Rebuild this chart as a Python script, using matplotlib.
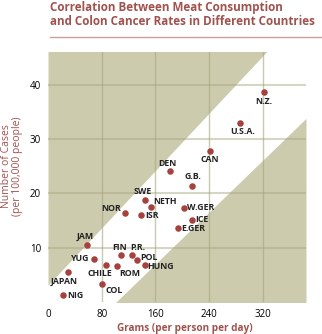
import numpy as np
import matplotlib.pyplot as plt

countries = ["N.Z.", "U.S.A.", "CAN", "DEN", "G.B.", "SWE", "NETH", "NOR", "ISR",
             "W.GER", "ICE", "E.GER", "JAM", "YUG", "JAPAN", "NIG", "CHILE", "COL",
             "ROM", "FIN", "P.R.", "POL", "HUNG"]
grams = [321, 286, 241, 181, 215, 144, 154, 115, 139,
         203, 214, 194, 58, 68, 30, 22, 86, 81,
         102, 109, 125, 133, 144]
cases = [38.6, 33.0, 27.8, 24.1, 21.4, 18.8, 17.5, 16.4, 16.1,
         17.3, 15.1, 13.6, 10.4, 8.0, 5.6, 1.2, 6.9, 3.3,
         6.6, 8.6, 8.6, 7.7, 6.8]
# label offsets in pixels and alignment
label_pos = {
    "N.Z.": (0, -9, "center", "center"), "U.S.A.": (3, -9, "center", "center"),
    "CAN": (0, -9, "center", "center"), "DEN": (-2, 8, "center", "center"),
    "G.B.": (0, 9, "center", "center"), "SWE": (-2, 8, "center", "center"),
    "NETH": (2, 5, "left", "center"), "NOR": (-4, 4, "right", "center"),
    "ISR": (4, -1, "left", "center"), "W.GER": (3, 0, "left", "center"),
    "ICE": (3, 0, "left", "center"), "E.GER": (3, 0, "left", "center"),
    "JAM": (-2, 9, "center", "center"), "YUG": (-4, 0, "right", "center"),
    "JAPAN": (-4, -10, "center", "center"), "NIG": (4, 0, "left", "center"),
    "CHILE": (-6, -9, "center", "center"), "COL": (3, -6, "left", "center"),
    "ROM": (3, -7, "left", "center"), "FIN": (-2, 8, "center", "center"),
    "P.R.": (6, 8, "center", "center"), "POL": (3, 3, "left", "center"),
    "HUNG": (3, -1, "left", "center"),
}

xticks = [0, 80, 160, 240, 320]
yticks = [10, 20, 30, 40]
upper_band = (3.1, 0.132)
lower_band = (-12.1, 0.1195)

red = "#a5423f"
shade = "#cdcbae"
plt.rcParams['font.family'] = ['Open Sans', 'DejaVu Sans']

fig = plt.figure(figsize=(3.22, 3.34), dpi=100)
ax = fig.add_axes([48 / 322, 1 - 302 / 334, 258 / 322, 250 / 334])
xlim = (0, 384)
ylim = (0, 46)
xs = np.array(xlim)
ax.fill_between(xs, upper_band[0] + upper_band[1] * xs, 60, color=shade, lw=0, zorder=0)
ax.fill_between(xs, -10, lower_band[0] + lower_band[1] * xs, color=shade, lw=0, zorder=0)
for x in xticks[1:]:
    ax.axvline(x, color="#a6a47c", alpha=0.6, lw=1, zorder=1)
for y in yticks:
    ax.axhline(y, color="#a6a47c", alpha=0.45, lw=1.5, zorder=1)

ax.scatter(grams, cases, s=22, color=red, lw=0, zorder=3)
for c, gx, cy in zip(countries, grams, cases):
    dx, dy, ha, va = label_pos[c]
    ax.annotate(c, (gx, cy), xytext=(dx, dy), textcoords="offset pixels",
                ha=ha, va=va, fontsize=6.3, fontweight="bold", color="#222222", zorder=4)

ax.set_xlim(xlim)
ax.set_ylim(ylim)
ax.set_xticks(xticks)
ax.set_yticks(yticks)
ax.tick_params(length=0, labelsize=7, pad=5)
for s in ax.spines.values():
    s.set_visible(False)

fig.text(50 / 322, 1 - 1 / 334, "Correlation Between Meat Consumption\nand Colon Cancer Rates in Different Countries",
         ha="left", va="top", fontsize=8.4, fontweight="bold", color="#a0524d", linespacing=1.1)
fig.add_artist(plt.Line2D([50 / 322, 1], [1 - 37 / 334] * 2, color="#c9a09a", lw=1))
fig.text(185 / 322, 1 - 328 / 334, "Grams (per person per day)", ha="center", va="center",
         fontsize=7.2, fontweight="bold", color="#a0524d")
fig.text(12 / 322, 1 - 166 / 334, "Number of Cases\n(per 100,000 people)", ha="center", va="center",
         rotation=90, fontsize=7.5, color="#a0524d", linespacing=1.1)

fig.savefig("out.png", dpi=100)
